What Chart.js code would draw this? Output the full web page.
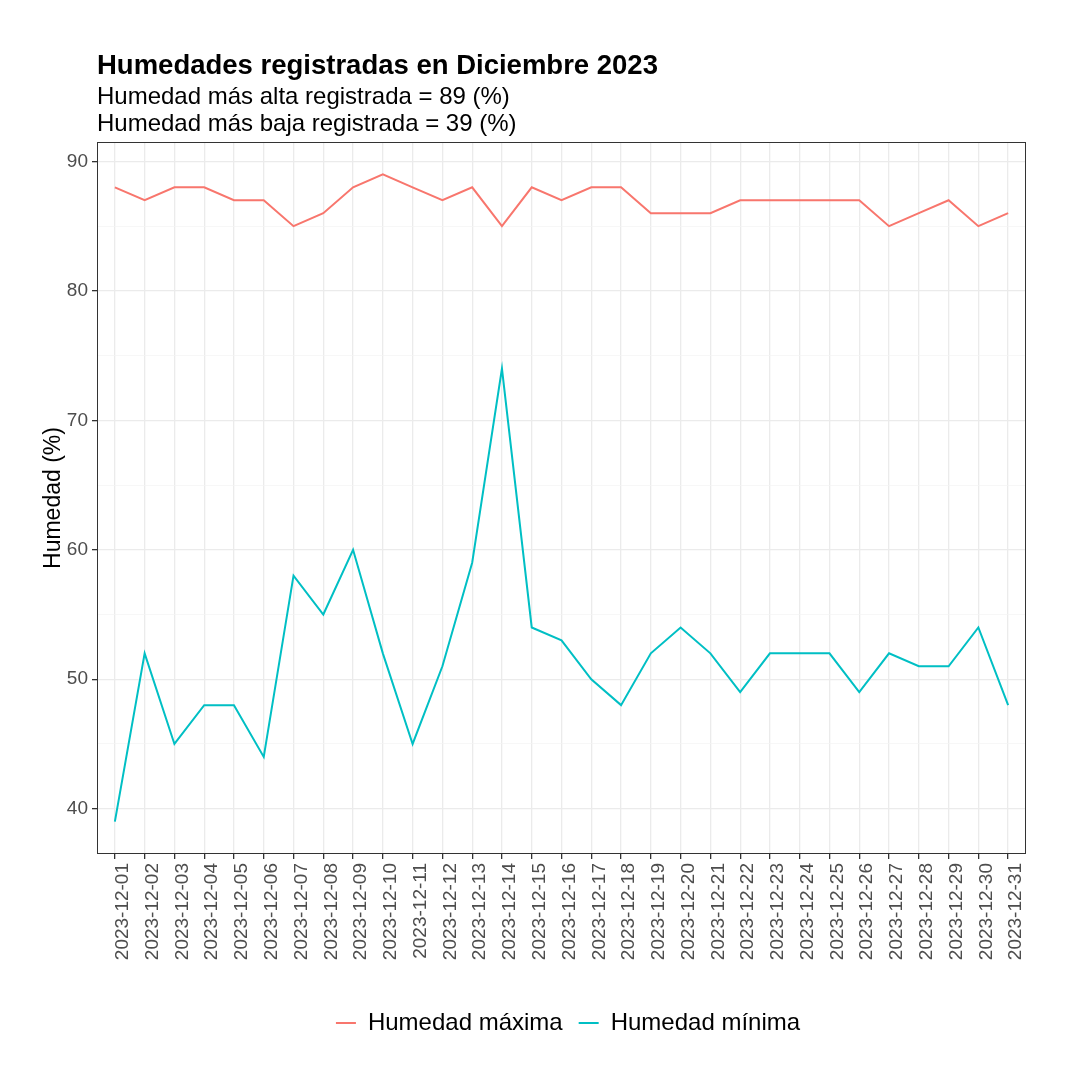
<!DOCTYPE html>
<html lang="es">
<head>
  <meta charset="UTF-8">
  <title>Humedades registradas en Diciembre 2023</title>
  <script src="https://cdn.jsdelivr.net/npm/chart.js@4"></script>
  <style>
    html, body { margin: 0; padding: 0; background: #fff; }
  </style>
</head>
<body>
  <canvas id="chart" width="1080" height="1080"></canvas>

  <script>
    // datos
    const dates = [
      '2023-12-01', '2023-12-02', '2023-12-03', '2023-12-04', '2023-12-05', '2023-12-06',
      '2023-12-07', '2023-12-08', '2023-12-09', '2023-12-10', '2023-12-11', '2023-12-12',
      '2023-12-13', '2023-12-14', '2023-12-15', '2023-12-16', '2023-12-17', '2023-12-18',
      '2023-12-19', '2023-12-20', '2023-12-21', '2023-12-22', '2023-12-23', '2023-12-24',
      '2023-12-25', '2023-12-26', '2023-12-27', '2023-12-28', '2023-12-29', '2023-12-30',
      '2023-12-31'
    ];
    const humMax = [88, 87, 88, 88, 87, 87, 85, 86, 88, 89, 88, 87, 88, 85, 88, 87,
                    88, 88, 86, 86, 86, 87, 87, 87, 87, 87, 85, 86, 87, 85, 86];
    const humMin = [39, 52, 45, 48, 48, 44, 58, 55, 60, 52, 45, 51, 59, 74, 54, 53,
                    50, 48, 52, 54, 52, 49, 52, 52, 52, 49, 52, 51, 51, 54, 48];
    const yTicks = [40, 45, 50, 55, 60, 65, 70, 75, 80, 85, 90];

    const FONT = '"Liberation Sans", Arial, sans-serif';
    const title = 'Humedades registradas en Diciembre 2023';
    const subtitle = [
      'Humedad más alta registrada = ' + Math.max(...humMax) + ' (%)',
      'Humedad más baja registrada = ' + Math.min(...humMin) + ' (%)'
    ];

    // titulos arriba y borde del panel
    const decor = {
      id: 'decor',
      afterDraw(chart) {
        const { ctx, chartArea } = chart;
        ctx.save();
        ctx.fillStyle = '#000';
        ctx.textAlign = 'left';
        ctx.textBaseline = 'alphabetic';
        ctx.font = 'bold 27.5px ' + FONT;
        ctx.fillText(title, chartArea.left, 74);
        ctx.font = '24px ' + FONT;
        ctx.fillText(subtitle[0], chartArea.left, 104);
        ctx.fillText(subtitle[1], chartArea.left, 131);
        ctx.strokeStyle = '#333';
        ctx.lineWidth = 1;
        ctx.strokeRect(Math.round(chartArea.left) + 0.5, Math.round(chartArea.top) + 0.5,
          Math.round(chartArea.width) - 1, Math.round(chartArea.height) - 1);
        ctx.restore();
      }
    };

    new Chart(document.getElementById('chart'), {
      type: 'line',
      data: {
        datasets: [
          {
            label: 'Humedad máxima',
            data: humMax.map((v, i) => ({ x: i, y: v })),
            borderColor: '#F8766D',
            backgroundColor: '#F8766D',
            borderWidth: 2,
            pointRadius: 0,
            tension: 0
          },
          {
            label: 'Humedad mínima',
            data: humMin.map((v, i) => ({ x: i, y: v })),
            borderColor: '#00BFC4',
            backgroundColor: '#00BFC4',
            borderWidth: 2,
            pointRadius: 0,
            tension: 0
          }
        ]
      },
      options: {
        responsive: false,
        animation: false,
        layout: { padding: { top: 142, left: 56, right: 0, bottom: 35 } },
        scales: {
          x: {
            type: 'linear',
            min: -0.6,
            max: 30.6,
            afterBuildTicks: s => { s.ticks = dates.map((d, i) => ({ value: i })); },
            afterFit: s => { s.height = 141; },
            ticks: {
              autoSkip: false,
              minRotation: 90,
              maxRotation: 90,
              padding: 4,
              labelOffset: 8,
              color: '#4d4d4d',
              font: { family: FONT, size: 19 },
              callback: v => dates[v]
            },
            grid: { color: '#ebebeb', lineWidth: 1.3, tickLength: 5, tickColor: '#333' },
            border: { display: false }
          },
          y: {
            min: 36.5,
            max: 91.5,
            afterBuildTicks: s => { s.ticks = yTicks.map(v => ({ value: v })); },
            afterFit: s => { s.width = 41; },
            ticks: {
              padding: 4,
              color: '#4d4d4d',
              font: { family: FONT, size: 19 },
              callback: v => (v % 10 === 0 ? v : '')
            },
            grid: {
              color: c => (c.tick && c.tick.value % 10 === 0 ? '#ebebeb' : '#f3f3f3'),
              lineWidth: c => (c.tick && c.tick.value % 10 === 0 ? 1.3 : 0.7),
              tickLength: 5,
              tickColor: c => (c.tick && c.tick.value % 10 === 0 ? '#333' : 'rgba(0,0,0,0)')
            },
            border: { display: false },
            title: {
              display: true,
              text: 'Humedad (%)',
              color: '#000',
              font: { family: FONT, size: 23 },
              padding: { top: -16, bottom: 0 }
            }
          },
          // eje vacio a la derecha para dejar el margen del panel
          y2: {
            position: 'right',
            display: true,
            afterFit: s => { s.width = 54; },
            ticks: { display: false },
            grid: { display: false },
            border: { display: false }
          }
        },
        plugins: {
          legend: {
            position: 'bottom',
            labels: {
              usePointStyle: true,
              pointStyle: 'line',
              pointStyleWidth: 20,
              padding: 16,
              color: '#000',
              font: { family: FONT, size: 24 }
            }
          },
          tooltip: { enabled: false }
        }
      },
      plugins: [decor]
    });
  </script>
</body>
</html>
